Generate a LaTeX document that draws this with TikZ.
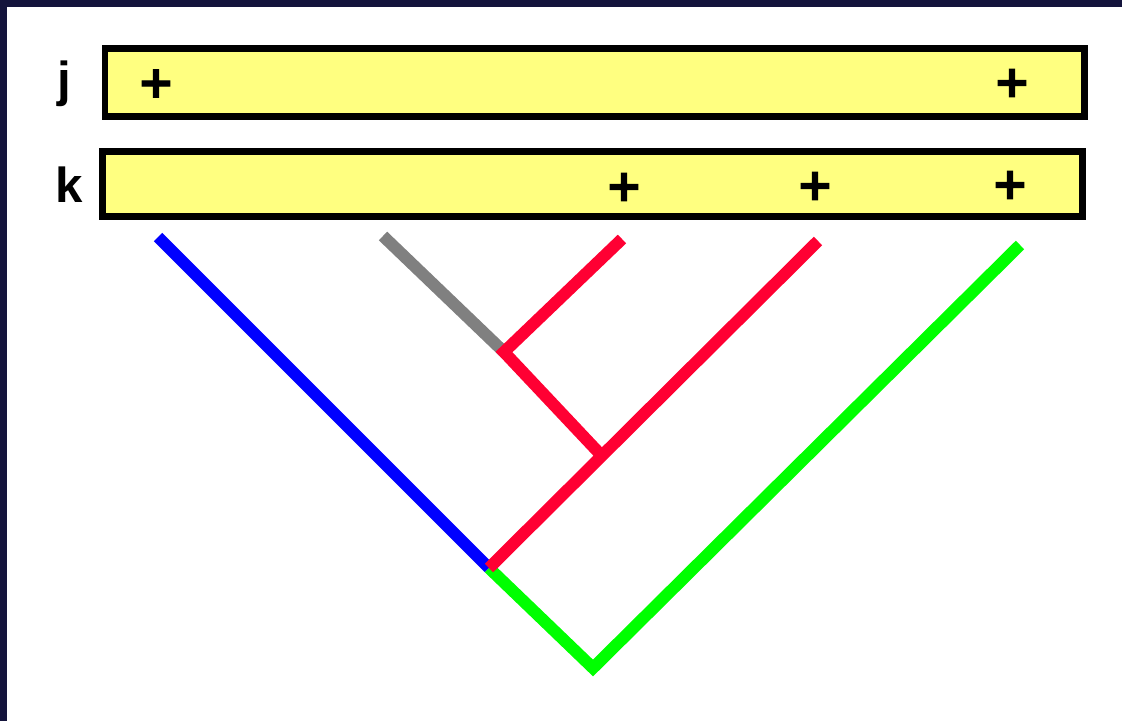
\documentclass[tikz,border=0pt]{standalone}
\usepackage{fontspec}
\setmainfont{Liberation Sans}
\newfontfamily\plusfont[BoldFeatures={FakeBold=3}]{DejaVu Sans}
\definecolor{frame}{HTML}{14143C}
\definecolor{pale}{HTML}{FFFF80}
\definecolor{treered}{HTML}{FF0033}
\definecolor{treegreen}{HTML}{00FF00}

\begin{document}
\begin{tikzpicture}[
    box/.style={draw=black, fill=pale, line width=0.068cm, inner sep=0pt},
    lbl/.style={font=\fontsize{14}{16}\selectfont\bfseries, anchor=base, inner sep=0pt},
    plus/.style={font=\plusfont\fontsize{12.5}{14}\selectfont\bfseries, inner sep=0pt},
    branch/.style={line width=0.12cm, line join=miter}]
  \useasboundingbox (0,0) rectangle (11.22,7.21);
  \fill[frame] (0,0) rectangle (11.22,7.21);
  \fill[white] (0.07,0) rectangle (11.22,7.14);

  % the two sequences
  \node[box, minimum width=9.795cm, minimum height=0.68cm] (jbox) at (5.9475,6.385) {};
  \node[box, minimum width=9.80cm, minimum height=0.65cm] (kbox) at (5.925,5.37) {};
  \node[lbl] (jlbl) at (0.645,7.21-0.97) {j};
  \node[lbl] (klbl) at (0.695,7.21-2.03) {k};
  \node[plus] (j1) at (1.56,6.375) {+};
  \node[plus] (j2) at (10.12,6.38) {+};
  \node[plus] (k1) at (6.24,5.34) {+};
  \node[plus] (k2) at (8.15,5.35) {+};
  \node[plus] (k3) at (10.10,5.36) {+};

  % tree
  \coordinate (tA) at (1.58,4.84);
  \coordinate (tB) at (3.83,4.85);
  \coordinate (tC) at (6.22,4.82);
  \coordinate (tD) at (8.18,4.80);
  \coordinate (tE) at (10.20,4.76);
  \coordinate (root) at (4.89,1.53);
  \coordinate (n2) at (6.01,2.66);
  \coordinate (n3) at (5.04,3.69);
  \coordinate (bot) at (5.93,0.53);
  \draw[branch, blue] (tA) -- (root);
  \draw[branch, treegreen] (root) -- (bot) -- (tE);
  \draw[branch, gray] (tB) -- (n3);
  \draw[branch, treered] (n2) -- (n3) -- (tC);
  \draw[branch, treered] (root) -- (tD);
\end{tikzpicture}
\end{document}
